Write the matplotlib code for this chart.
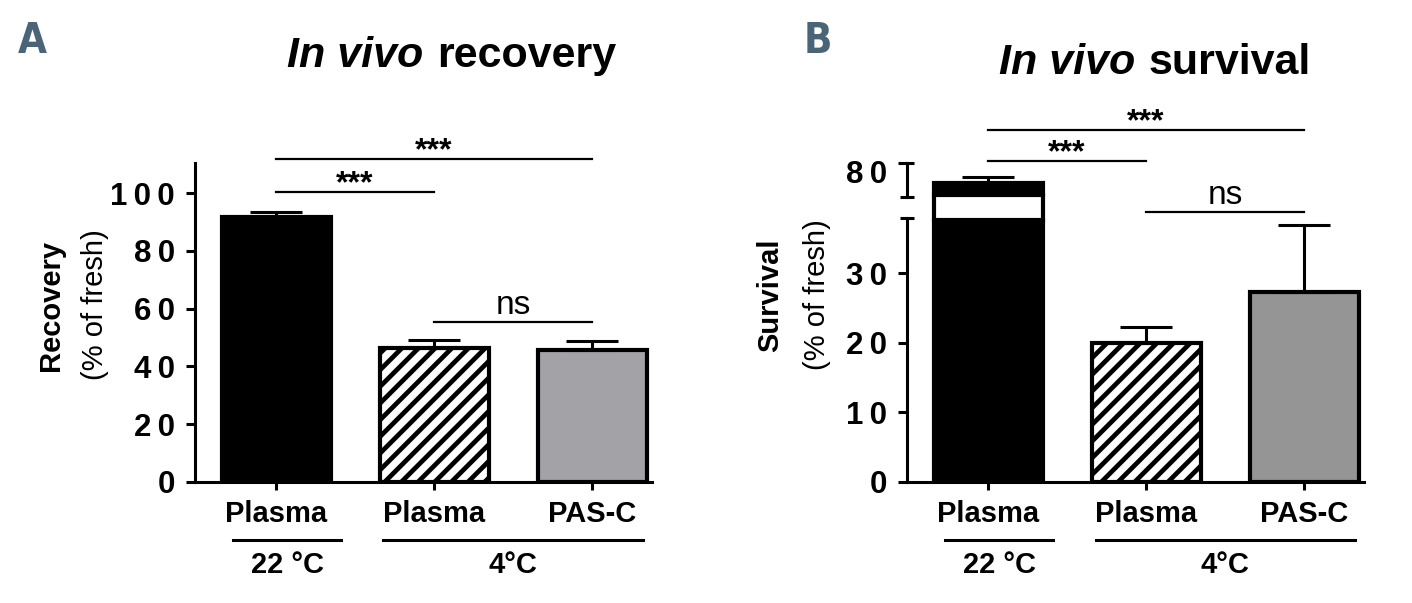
import matplotlib
matplotlib.use('Agg')
import matplotlib.pyplot as plt
from matplotlib import transforms

# data
CONDITIONS = ['Plasma', 'Plasma', 'PAS-C']
GROUPS = ['22 °C', '4°C']
RECOVERY = [91.7, 46.4, 45.7]
RECOVERY_ERR = [1.8, 2.7, 3.1]
SURVIVAL = [74.1, 20.0, 27.3]
SURVIVAL_ERR = [1.8, 2.3, 9.6]
RECOVERY_TICKS = [0, 20, 40, 60, 80, 100]
SURVIVAL_TICKS_LOW = [0, 10, 20, 30]
SURVIVAL_TICKS_HIGH = [80]

FACES_A = ['black', 'white', '#a3a2a7']
FACES_B = ['black', 'white', '#959595']
HATCHES = ['', '//', '']
LETTER_COLOR = '#4a6478'
BAR_WIDTH = 0.69
XLIM = (-0.513, 2.38)
LOW_TOP = 37.9
HIGH_LIM = (70, 80)
GAP = 3.0

plt.rcParams['font.family'] = ['Liberation Sans', 'DejaVu Sans']
plt.rcParams['hatch.linewidth'] = 3.4
plt.rcParams['axes.linewidth'] = 2.2


def spaced(v):
    return '\u2009'.join(str(v))


def style_axis(ax, ticks):
    for side in ['top', 'right']:
        ax.spines[side].set_visible(False)
    ax.patch.set_visible(False)
    ax.set_yticks(ticks)
    ax.set_yticklabels([spaced(t) for t in ticks], fontsize=22.5, fontweight='bold')
    ax.tick_params(axis='y', direction='out', length=6.5, width=2.2, pad=8)
    ax.set_xlim(XLIM)


def draw_bars(ax, values, errors, faces):
    x = list(range(len(values)))
    bars = ax.bar(x, values, width=BAR_WIDTH, color=faces, edgecolor='black', linewidth=3)
    for bar, h in zip(bars, HATCHES):
        bar.set_hatch(h)
    ax.errorbar(x, values, yerr=[[0] * len(errors), errors], fmt='none', ecolor='black',
                elinewidth=2.2, capsize=19, capthick=2.2)
    return x


def xlabels(ax, x):
    ax.set_xticks(x)
    ax.set_xticklabels(CONDITIONS, fontsize=21, fontweight='bold')
    ax.tick_params(axis='x', direction='out', length=6, width=2.2, pad=7)


def bracket(ax, x0, x1, y, label, stars=True):
    ax.plot([x0, x1], [y, y], color='black', lw=1.6, clip_on=False)
    if stars:
        tr = transforms.offset_copy(ax.transData, fig=ax.figure, y=0, units='points')
        ax.text((x0 + x1) / 2, y, label, ha='center', va='baseline', fontsize=23,
                fontweight='bold', transform=tr, clip_on=False)
    else:
        tr = transforms.offset_copy(ax.transData, fig=ax.figure, y=6, units='points')
        ax.text((x0 + x1) / 2, y, label, ha='center', va='baseline', fontsize=24,
                transform=tr, clip_on=False)


def groups(fig, ax):
    tr = transforms.blended_transform_factory(ax.transData, fig.transFigure)
    ax.plot([-0.27, 0.41], [0.1045, 0.1045], color='black', lw=2.2, transform=tr, clip_on=False)
    ax.plot([0.68, 2.32], [0.1045, 0.1045], color='black', lw=2.2, transform=tr, clip_on=False)
    ax.text(0.07, 0.063, GROUPS[0], ha='center', va='center', fontsize=21, fontweight='bold',
            transform=tr)
    ax.text(1.5, 0.063, GROUPS[1], ha='center', va='center', fontsize=21, fontweight='bold',
            transform=tr)


def titles(fig, x_split, y, tail):
    fig.text(x_split, y, 'In vivo', ha='right', va='baseline', fontsize=31,
             fontweight='bold', fontstyle='italic')
    fig.text(x_split + 0.0099, y, tail, ha='left', va='baseline', fontsize=31, fontweight='bold')


def ylabel(fig, x0, x1, y, name):
    fig.text(x0, y, name, rotation=90, ha='center', va='center', fontsize=21, fontweight='bold')
    fig.text(x1, y, '(% of fresh)', rotation=90, ha='center', va='center', fontsize=21)


def letter(fig, x, text):
    fig.text(x, 0.912, text, ha='left', va='baseline', fontsize=30, fontweight='bold',
             family='DejaVu Sans', fontstretch='condensed', color=LETTER_COLOR)


def panel_a(fig):
    ax = fig.add_axes([0.1381, 0.2007, 0.3237, 0.529])
    x = draw_bars(ax, RECOVERY, RECOVERY_ERR, FACES_A)
    style_axis(ax, RECOVERY_TICKS)
    ax.set_ylim(0, 110.4)
    xlabels(ax, x)
    bracket(ax, 0, 1, 100.3, '***')
    bracket(ax, 0, 2, 111.8, '***')
    bracket(ax, 1, 2, 55.4, 'ns', stars=False)
    groups(fig, ax)
    titles(fig, 0.2995, 0.889, 'recovery')
    ylabel(fig, 0.0361, 0.0673, 0.494, 'Recovery')
    letter(fig, 0.0127, 'A')


def panel_b(fig):
    lo = fig.add_axes([0.6424, 0.2007, 0.3237, 0.4378])
    hi = fig.add_axes([0.6424, 0.6733, 0.3237, 0.0564])
    x = draw_bars(lo, SURVIVAL, SURVIVAL_ERR, FACES_B)
    draw_bars(hi, SURVIVAL, SURVIVAL_ERR, FACES_B)
    # white stripe where the tall bar crosses the axis break
    lo.bar(x[0], GAP + 0.6, bottom=LOW_TOP - 0.3, width=BAR_WIDTH, color='white',
           edgecolor='black', linewidth=3, clip_on=False)
    style_axis(lo, SURVIVAL_TICKS_LOW)
    style_axis(hi, SURVIVAL_TICKS_HIGH)
    lo.set_ylim(0, LOW_TOP)
    hi.set_ylim(*HIGH_LIM)
    hi.spines['bottom'].set_visible(False)
    hi.set_xticks([])
    shift = transforms.ScaledTranslation(0, -6 / 72, fig.dpi_scale_trans)
    for lab in hi.get_yticklabels():
        lab.set_transform(lab.get_transform() + shift)
    xlabels(lo, x)
    for ax, ys in [(lo, [1]), (hi, [0, 1])]:
        for yy in ys:
            ax.plot([0], [yy], marker='_', markersize=10, mew=2.2, color='black',
                    transform=ax.transAxes, clip_on=False)
    bracket(hi, 0, 1, 80.6, '***')
    bracket(hi, 0, 2, 89.7, '***')
    bracket(lo, 1, 2, 38.7, 'ns', stars=False)
    groups(fig, lo)
    titles(fig, 0.8038, 0.877, 'survival')
    ylabel(fig, 0.5453, 0.5786, 0.511, 'Survival')
    letter(fig, 0.569, 'B')


def main():
    fig = plt.figure(figsize=(14.12, 6.03), dpi=100)
    panel_a(fig)
    panel_b(fig)
    fig.savefig('out.png', dpi=100)
    plt.close(fig)


if __name__ == '__main__':
    main()
